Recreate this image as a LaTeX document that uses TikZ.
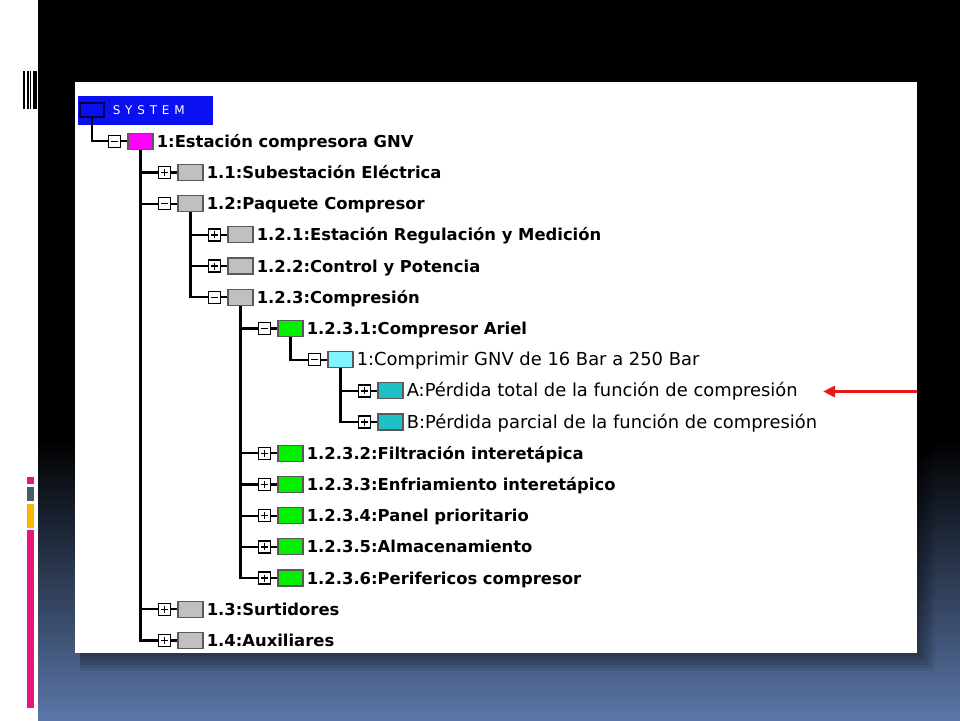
\documentclass[tikz,border=0pt]{standalone}
\usepackage{fontspec}
\setmainfont{DejaVu Sans}
\newfontfamily\sysfont[LetterSpace=40]{DejaVu Sans}
\usetikzlibrary{positioning}
\usetikzlibrary{arrows.meta}
\definecolor{sysblue}{HTML}{0A10F0}
\definecolor{slideblue}{HTML}{5A76A8}
\definecolor{barpink}{HTML}{E6177C}
\definecolor{barslate}{HTML}{4B5B6B}
\definecolor{bargold}{HTML}{F8B800}
\definecolor{boxmagenta}{HTML}{FF00FF}
\definecolor{boxgray}{HTML}{C0C0C0}
\definecolor{boxgreen}{HTML}{00F000}
\definecolor{boxcyan}{HTML}{80F4FF}
\definecolor{boxteal}{HTML}{1EC0C8}
\definecolor{arrowred}{HTML}{E81818}
\tikzset{
link/.style={line width=2.2pt}, % lines of the tree
cbox/.style={draw=black!65, line width=1.2pt, minimum width=25pt, minimum height=16pt, inner sep=0pt}, % coloured item box
expand/.style={draw, fill=white, line width=1.4pt, minimum size=12pt, inner sep=0pt},
minus/.style={expand, path picture={\draw[line width=1.4pt] ([xshift=2.5pt]path picture bounding box.west) -- ([xshift=-2.5pt]path picture bounding box.east);}},
plus/.style={expand, path picture={\draw[line width=1.4pt] ([xshift=2.5pt]path picture bounding box.west) -- ([xshift=-2.5pt]path picture bounding box.east);
  \draw[line width=1.4pt] ([yshift=-2.5pt]path picture bounding box.north) -- ([yshift=2.5pt]path picture bounding box.south);}},
rowtext/.style={inner sep=0pt, text height=12pt, text depth=0pt, font=\bfseries\fontsize{16.4}{18}\selectfont},
thintext/.style={rowtext, font=\fontsize{17.9}{19}\selectfont},
redarrow/.style={arrowred, line width=3pt, -{Triangle[length=12pt,width=11pt]}},
}
\begin{document}
\begin{tikzpicture}[x=1pt, y=-1pt]
\useasboundingbox (0,0) rectangle (960,720);
% slide background
\fill[white] (0,0) rectangle (960,720);
\fill[black] (38,0) rectangle (960,440);
\shade[top color=black, bottom color=slideblue] (38,440) rectangle (960,720);
\fill[black] (22.7,71) rectangle (24.7,109);
\fill[black] (26.7,71) rectangle (28.7,109);
\fill[black] (29.5,71) rectangle (31.3,109);
\fill[black] (32.7,71) rectangle (36.7,109);
\fill[barpink] (27.3,477) rectangle (34,484);
\fill[barslate] (27.3,487) rectangle (34,501);
\fill[bargold] (27.3,504) rectangle (34,528);
\fill[barpink] (27.3,530) rectangle (34,708);
% panel with its shadow
\foreach \s in {3,6,...,18}
  \fill[black, opacity=0.07] (80,90) rectangle ({917+\s},{653+\s});
\fill[white] (75,82) rectangle (917,653);
\fill[sysblue] (78,96) rectangle (213,125);
%SYSTEM
\node[cbox, fill=sysblue, draw=black!70!blue, minimum width=24pt, minimum height=14pt] (sys) at (92,110) {};
\node[right=8pt of sys, inner sep=0pt, text=white, font=\sysfont\fontsize{12}{14}\selectfont] (systxt) {SYSTEM};
%1
\node[cbox, fill=boxmagenta] (b1) at (140.5,141.2) {};
\node[minus, left=6pt of b1] (e1) {};
\node[rowtext, right=3pt of b1] (t1) {1:Estación compresora GNV};
%1.1 and 1.2
\node[cbox, fill=boxgray] (b11) at (190.5,172.4) {};
\node[plus, left=6pt of b11] (e11) {};
\node[rowtext, right=3pt of b11] (t11) {1.1:Subestación Eléctrica};
\node[cbox, fill=boxgray] (b12) at (190.5,203.6) {};
\node[minus, left=6pt of b12] (e12) {};
\node[rowtext, right=3pt of b12] (t12) {1.2:Paquete Compresor};
%1.2.x
\node[cbox, fill=boxgray] (b121) at (240.5,234.8) {};
\node[plus, left=6pt of b121] (e121) {};
\node[rowtext, right=3pt of b121] (t121) {1.2.1:Estación Regulación y Medición};
\node[cbox, fill=boxgray] (b122) at (240.5,266.0) {};
\node[plus, left=6pt of b122] (e122) {};
\node[rowtext, right=3pt of b122] (t122) {1.2.2:Control y Potencia};
\node[cbox, fill=boxgray] (b123) at (240.5,297.2) {};
\node[minus, left=6pt of b123] (e123) {};
\node[rowtext, right=3pt of b123] (t123) {1.2.3:Compresión};
%1.2.3.1 with its function and failures
\node[cbox, fill=boxgreen] (b1231) at (290.5,328.4) {};
\node[minus, left=6pt of b1231] (e1231) {};
\node[rowtext, right=3pt of b1231] (t1231) {1.2.3.1:Compresor Ariel};
\node[cbox, fill=boxcyan] (bF) at (340.5,359.6) {};
\node[minus, left=6pt of bF] (eF) {};
\node[thintext, right=3pt of bF] (tF) {1:Comprimir GNV de 16 Bar a 250 Bar};
\node[cbox, fill=boxteal] (bA) at (390.5,390.8) {};
\node[plus, left=6pt of bA] (eA) {};
\node[thintext, right=3pt of bA] (tA) {A:Pérdida total de la función de compresión};
\node[cbox, fill=boxteal] (bB) at (390.5,422.0) {};
\node[plus, left=6pt of bB] (eB) {};
\node[thintext, right=3pt of bB] (tB) {B:Pérdida parcial de la función de compresión};
%1.2.3.2 - 1.2.3.6
\node[cbox, fill=boxgreen] (b1232) at (290.5,453.2) {};
\node[plus, left=6pt of b1232] (e1232) {};
\node[rowtext, right=3pt of b1232] (t1232) {1.2.3.2:Filtración interetápica};
\node[cbox, fill=boxgreen] (b1233) at (290.5,484.4) {};
\node[plus, left=6pt of b1233] (e1233) {};
\node[rowtext, right=3pt of b1233] (t1233) {1.2.3.3:Enfriamiento interetápico};
\node[cbox, fill=boxgreen] (b1234) at (290.5,515.6) {};
\node[plus, left=6pt of b1234] (e1234) {};
\node[rowtext, right=3pt of b1234] (t1234) {1.2.3.4:Panel prioritario};
\node[cbox, fill=boxgreen] (b1235) at (290.5,546.8) {};
\node[plus, left=6pt of b1235] (e1235) {};
\node[rowtext, right=3pt of b1235] (t1235) {1.2.3.5:Almacenamiento};
\node[cbox, fill=boxgreen] (b1236) at (290.5,578.0) {};
\node[plus, left=6pt of b1236] (e1236) {};
\node[rowtext, right=3pt of b1236] (t1236) {1.2.3.6:Perifericos compresor};
%1.3 and 1.4
\node[cbox, fill=boxgray] (b13) at (190.5,609.2) {};
\node[plus, left=6pt of b13] (e13) {};
\node[rowtext, right=3pt of b13] (t13) {1.3:Surtidores};
\node[cbox, fill=boxgray] (b14) at (190.5,640.4) {};
\node[plus, left=6pt of b14] (e14) {};
\node[rowtext, right=3pt of b14] (t14) {1.4:Auxiliares};
% tree lines
\draw[link] (sys.south) |- (e1.west);
\draw[link] (b1.south) |- (e11.west) (b1.south) |- (e12.west) (b1.south) |- (e13.west) (b1.south) |- (e14.west);
\draw[link] (b12.south) |- (e121.west) (b12.south) |- (e122.west) (b12.south) |- (e123.west);
\draw[link] (b123.south) |- (e1231.west) (b123.south) |- (e1232.west) (b123.south) |- (e1233.west)
  (b123.south) |- (e1234.west) (b123.south) |- (e1235.west) (b123.south) |- (e1236.west);
\draw[link] (b1231.south) |- (eF.west);
\draw[link] (bF.south) |- (eA.west) (bF.south) |- (eB.west);
\draw[link] (e1) -- (b1) (e11) -- (b11) (e12) -- (b12) (e13) -- (b13) (e14) -- (b14);
\draw[link] (e121) -- (b121) (e122) -- (b122) (e123) -- (b123);
\draw[link] (e1231) -- (b1231) (e1232) -- (b1232) (e1233) -- (b1233) (e1234) -- (b1234) (e1235) -- (b1235) (e1236) -- (b1236);
\draw[link] (eF) -- (bF) (eA) -- (bA) (eB) -- (bB);
% red pointer
\coordinate (redstart) at (917,391.5);
\coordinate (redtip) at (823,391.5);
\draw[redarrow] (redstart) -- (redtip);
\end{tikzpicture}
\end{document}
